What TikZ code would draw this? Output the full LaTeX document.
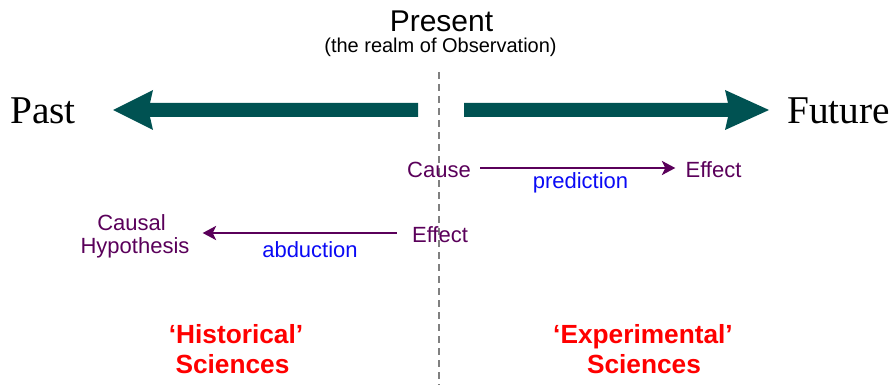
\documentclass[tikz,border=0pt]{standalone}
\usepackage{fontspec}
\setmainfont{Liberation Serif}
\setsansfont{Liberation Sans}
\usetikzlibrary{arrows.meta}
\definecolor{tealdark}{RGB}{0,82,82}
\definecolor{purp}{RGB}{90,0,90}
\definecolor{dashgray}{RGB}{128,128,128}
\definecolor{labblue}{RGB}{10,10,245}
\definecolor{labred}{RGB}{255,0,0}
\begin{document}
\begin{tikzpicture}[x=0.75pt,y=-0.75pt,
  txt/.style={inner sep=0pt, anchor=base},
  sans/.style={txt, font=\sffamily\fontsize{16.5}{20}\selectfont, text=purp},
  lab/.style={txt, font=\sffamily\fontsize{16.5}{20}\selectfont, text=labblue},
  sci/.style={txt, font=\sffamily\bfseries\fontsize{19.7}{23}\selectfont, text=labred},
  timew/.style={inner sep=0pt, anchor=base west, font=\rmfamily\fontsize{29.5}{35}\selectfont},
  pa/.style={draw=purp, line width=2pt, -{Stealth[length=10pt,width=10.5pt,inset=2.5pt]}},
  bigarrow/.style={fill=tealdark, draw=none},
  divider/.style={draw=dashgray, line width=1.5pt, dash pattern=on 5.25pt off 3.75pt}
]
\useasboundingbox (0,0) rectangle (893,385);

% dashed divider
\draw[divider] (439,72) -- (439,385);

% big time arrows
\path[bigarrow] (418,103) -- (150,103) -- (153,90) -- (113,110) -- (153,130) -- (150,117) -- (418,117) -- cycle;
\path[bigarrow] (464,103) -- (728,103) -- (725,90) -- (769,110) -- (725,130) -- (728,117) -- (464,117) -- cycle;

% titles
\node[txt, font=\sffamily\fontsize{22.5}{27}\selectfont] (present) at (441.5,32) {Present};
\node[txt, font=\sffamily\fontsize{15}{18}\selectfont] (realm) at (440.5,53) {(the realm of Observation)};
\node[timew] (past) at (10,123) {Past};
\node[timew] (future) at (787,123) {Future};

% prediction
\node[sans] (cause) at (439,177) {Cause};
\node[sans] (effR) at (713.5,177) {Effect};
\node[lab] (pred) at (580.5,188) {prediction};
\draw[pa] ([xshift=6.75pt,yshift=6.75pt]cause.base east) -- ([xshift=-7.5pt,yshift=6.75pt]effR.base west);

% abduction
\node[sans] (effL) at (440,242) {Effect};
\node[sans] (causal) at (131.5,230) {Causal};
\node[sans] (hyp) at (135,253) {Hypothesis};
\node[lab] (abd) at (310,257) {abduction};
\draw[pa] ([xshift=-11.25pt,yshift=6.75pt]effL.base west) -- ([xshift=9.75pt,yshift=15pt]hyp.base east);

% sciences
\node[sci] (hist1) at (236,343) {‘Historical’};
\node[sci] (hist2) at (232.5,373) {Sciences};
\node[sci] (exp1) at (643,343) {‘Experimental’};
\node[sci] (exp2) at (644,373) {Sciences};
\end{tikzpicture}
\end{document}
